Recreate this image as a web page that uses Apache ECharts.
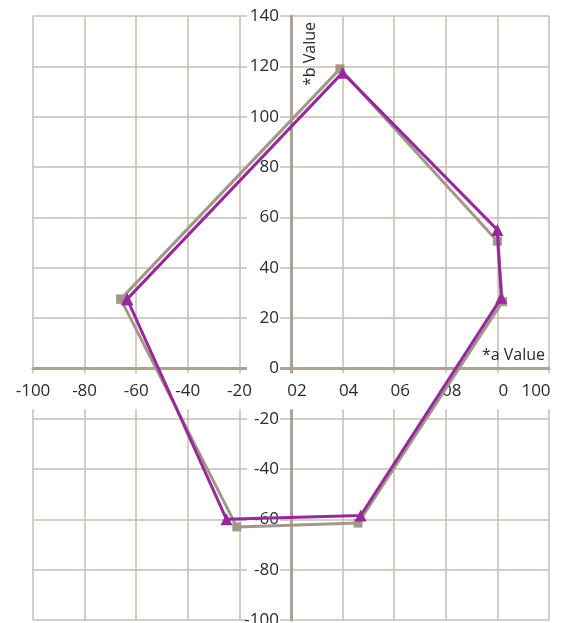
<!DOCTYPE html>
<html>
<head>
<meta charset="utf-8">
<script src="https://cdn.jsdelivr.net/npm/echarts@6/dist/echarts.min.js"></script>
<style>
  html, body { margin: 0; padding: 0; background: #fff; }
  #chart { width: 567px; height: 623px; }
</style>
</head>
<body>
<div id="chart"></div>
<script>
var chartDom = document.getElementById('chart');
var myChart = echarts.init(chartDom);
var option;

// tick labels as printed on the picture (positive x labels come out scrambled)
var xTickValues = [-100, -80, -60, -40, -20, 0, 20, 40, 60, 80, 100];
var xTickLabels = ['-100', '-80', '-60', '-40', '-20', '02', '04', '06', '08', '0', '100'];

// series points, polygon closed back to the first point
var seriesAX = [-66, 19, 80, 82, 26, -21, -66];
var seriesAY = [27.5, 119, 50.5, 26.5, -61.5, -63, 27.5];
var seriesBX = [-63.5, 20, 80, 81.5, 27, -25, -63.5];
var seriesBY = [27.5, 117.5, 55, 28, -58.5, -60, 27.5];

function pairs(xs, ys) {
  return xs.map(function (x, i) { return [x, ys[i]]; });
}

var font = '"Open Sans", sans-serif';
var textColor = '#2a2a2a';
var gridColor = '#c6bdb2';
var axisColor = '#aca193';

var gridLeft = 33, gridRight = 18, gridTop = 16, gridBottom = 3;
var plotW = 567 - gridLeft - gridRight;
var plotH = 623 - gridTop - gridBottom;
// axes cross at zero: shift each axis in from the grid edge
var xAxisOffset = -plotH * 100 / 240;
var yAxisOffset = -plotW * 100 / 200;

option = {
  animation: false,
  grid: {
    left: gridLeft,
    right: gridRight,
    top: gridTop,
    bottom: gridBottom,
    outerBoundsMode: 'none'
  },
  xAxis: {
    type: 'value',
    position: 'bottom',
    offset: xAxisOffset,
    min: -100,
    max: 100,
    interval: 20,
    name: '*a Value',
    nameLocation: 'end',
    nameGap: -4,
    nameMoveOverlap: false,
    nameTextStyle: {
      fontFamily: font,
      fontSize: 16,
      color: textColor,
      align: 'right',
      verticalAlign: 'bottom',
      padding: [0, 0, 5, 0]
    },
    axisLine: { onZero: false, lineStyle: { color: axisColor, width: 3 } },
    axisTick: { show: false },
    splitLine: { lineStyle: { color: gridColor, width: 1.5 } },
    axisLabel: {
      margin: 5,
      fontFamily: font,
      fontSize: 17,
      color: textColor,
      backgroundColor: '#fff',
      padding: [8, 2],
      lineHeight: 20,
      formatter: function (v) {
        var i = xTickValues.indexOf(v);
        var t = i >= 0 ? xTickLabels[i] : '';
        if (v === 100) return '{e|' + t + '}';
        if (v >= 0) return '{p|' + t + '}';
        return t;
      },
      rich: {
        p: { fontFamily: font, fontSize: 17, color: textColor, padding: [0, 0, 0, 12] },
        e: { fontFamily: font, fontSize: 17, color: textColor, padding: [0, 26, 0, 0] }
      }
    }
  },
  yAxis: {
    type: 'value',
    position: 'left',
    offset: yAxisOffset,
    min: -100,
    max: 140,
    interval: 20,
    name: '*b Value',
    nameLocation: 'end',
    nameRotate: 90,
    nameGap: -6,
    nameMoveOverlap: false,
    nameTextStyle: {
      fontFamily: font,
      fontSize: 16,
      color: textColor,
      align: 'right',
      verticalAlign: 'top',
      padding: [11, 0, 0, 0]
    },
    axisLine: { onZero: false, lineStyle: { color: axisColor, width: 3 } },
    axisTick: { show: false },
    splitLine: { lineStyle: { color: gridColor, width: 1.5 } },
    axisLabel: {
      margin: 11,
      fontFamily: font,
      fontSize: 17,
      color: textColor,
      backgroundColor: '#fff',
      width: 31,
      align: 'right',
      padding: [2, 1]
    }
  },
  series: [
    {
      type: 'line',
      data: pairs(seriesAX, seriesAY),
      symbol: 'rect',
      symbolSize: 9,
      showAllSymbol: true,
      color: '#a3978a',
      lineStyle: { width: 3, color: '#a3978a' },
      itemStyle: { color: '#a3978a' },
      z: 2
    },
    {
      type: 'line',
      data: pairs(seriesBX, seriesBY),
      symbol: 'triangle',
      symbolSize: 12,
      showAllSymbol: true,
      color: '#962a9a',
      lineStyle: { width: 3, color: '#962a9a' },
      itemStyle: { color: '#962a9a' },
      z: 3
    }
  ]
};
option && myChart.setOption(option);
</script>
</body>
</html>
